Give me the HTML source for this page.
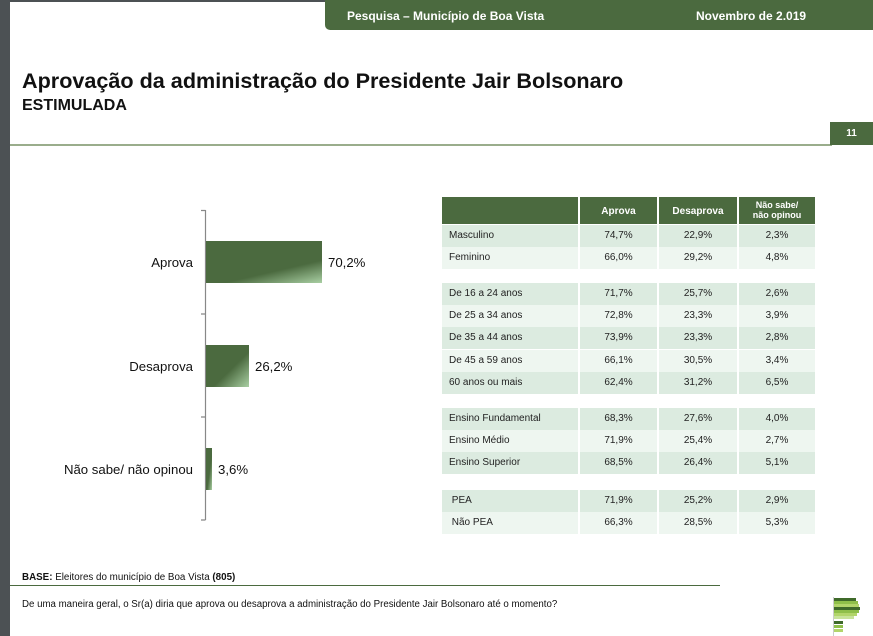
<!DOCTYPE html>
<html><head><meta charset="utf-8"><style>
*{margin:0;padding:0;box-sizing:border-box}
body{width:873px;height:636px;position:relative;background:#fff;font-family:"Liberation Sans",Arial,sans-serif;overflow:hidden}
.a{position:absolute}
.t div.r{position:absolute;left:442px;width:373px;height:22px;font-size:10px;color:#222}
.r span{position:absolute;top:0;height:22px;line-height:22px;text-align:center;border-right:2px solid #fff}
</style></head><body>
<div class="a" style="left:0;top:0;width:10px;height:636px;background:#4c5154"></div>
<div class="a" style="left:0;top:0;width:873px;height:2px;background:#4c5154"></div>
<div class="a" style="left:325px;top:0;width:548px;height:30px;background:#4b6a3f;border-bottom-left-radius:5px;color:#fff;font-weight:bold;font-size:12px">
<span class="a" style="left:22px;top:9px">Pesquisa – Município de Boa Vista</span>
<span class="a" style="left:371px;top:9px">Novembro de 2.019</span></div>
<div class="a" style="left:22px;top:68px;font-size:21.6px;font-weight:bold;color:#111">Aprovação da administração do Presidente Jair Bolsonaro</div>
<div class="a" style="left:22px;top:97px;font-size:16px;font-weight:bold;color:#111">ESTIMULADA</div>
<div class="a" style="left:10px;top:144px;width:822px;height:2px;background:#9aad8c"></div>
<div class="a" style="left:830px;top:122px;width:43px;height:23px;background:#4b6a3f;color:#fff;font-size:10px;font-weight:bold;text-align:center;line-height:23px">11</div>

<svg class="a" style="left:0;top:0" width="440" height="560">
<defs><linearGradient id="g" x1="0.55" y1="0.3" x2="1" y2="1"><stop offset="0.45" stop-color="#4b6a3f"/><stop offset="1" stop-color="#a9cfa3"/></linearGradient>
<linearGradient id="g2" x1="0.3" y1="0.3" x2="1" y2="1"><stop offset="0.4" stop-color="#4b6a3f"/><stop offset="1" stop-color="#a9cfa3"/></linearGradient></defs>
<g stroke="#888" stroke-width="1.2" fill="none"><path d="M205.5 210V520M201 210.5H205.5M201 314H205.5M201 417H205.5M201 520H205.5"/></g>
<rect x="206" y="241" width="116" height="42" fill="url(#g)"/>
<rect x="206" y="345" width="43" height="42" fill="url(#g2)"/>
<rect x="206" y="448" width="6" height="42" fill="url(#g2)"/>
<g font-family="Liberation Sans,Arial,sans-serif" font-size="13.2" fill="#111">
<text x="193" y="267" text-anchor="end">Aprova</text>
<text x="193" y="371" text-anchor="end">Desaprova</text>
<text x="193" y="474" text-anchor="end">Não sabe/ não opinou</text>
<text x="328" y="267">70,2%</text>
<text x="255" y="371">26,2%</text>
<text x="218" y="474">3,6%</text></g>
</svg>

<div class="a" style="left:442px;top:197px;width:373px;height:27px;background:#4b6a3f;color:#fff;font-weight:bold;font-size:10px">
<span class="a" style="left:136px;top:0;width:2px;height:27px;background:#fff"></span>
<span class="a" style="left:215px;top:0;width:2px;height:27px;background:#fff"></span>
<span class="a" style="left:295px;top:0;width:2px;height:27px;background:#fff"></span>
<span class="a" style="left:138px;width:77px;top:9px;text-align:center">Aprova</span>
<span class="a" style="left:217px;width:78px;top:9px;text-align:center">Desaprova</span>
<span class="a" style="left:297px;width:76px;top:3px;text-align:center;font-size:9px;line-height:10px">Não sabe/<br>não opinou</span>
</div>
<div class="t" id="t"></div>
<script>
var rows=[[225,"Masculino","74,7%","22,9%","2,3%",0],[247,"Feminino","66,0%","29,2%","4,8%",1],
[283,"De 16 a 24 anos","71,7%","25,7%","2,6%",0],[305,"De 25 a 34 anos","72,8%","23,3%","3,9%",1],
[327,"De 35 a 44 anos","73,9%","23,3%","2,8%",0],[350,"De 45 a 59 anos","66,1%","30,5%","3,4%",1],
[372,"60 anos ou mais","62,4%","31,2%","6,5%",0],
[408,"Ensino Fundamental","68,3%","27,6%","4,0%",0],[430,"Ensino Médio","71,9%","25,4%","2,7%",1],
[452,"Ensino Superior","68,5%","26,4%","5,1%",0],
[490,"&nbsp;PEA","71,9%","25,2%","2,9%",0],[512,"&nbsp;Não PEA","66,3%","28,5%","5,3%",1]];
var h="";rows.forEach(function(r){var bg=r[5]?"#eef6f0":"#dcebe0";
h+='<div class="r" style="top:'+r[0]+'px;background:'+bg+'">'+
'<span style="left:0;width:138px;text-align:left;padding-left:7px">'+r[1]+'</span>'+
'<span style="left:138px;width:79px">'+r[2]+'</span>'+
'<span style="left:217px;width:80px">'+r[3]+'</span>'+
'<span style="left:297px;width:76px;border-right:0">'+r[4]+'</span></div>';});
document.getElementById("t").innerHTML=h;
</script>
<div class="a" style="left:22px;top:572px;font-size:9.8px;color:#111"><b>BASE:</b> Eleitores do município de Boa Vista <b>(805)</b></div>
<div class="a" style="left:10px;top:585px;width:710px;height:1px;background:#4b6a3f"></div>
<div class="a" style="left:22px;top:599px;font-size:9.7px;color:#111">De uma maneira geral, o Sr(a) diria que aprova ou desaprova a administração do Presidente Jair Bolsonaro até o momento?</div>
<div class="a" style="left:833px;top:597px;width:1px;height:39px;background:#ccc"></div>
<div class="a" style="left:834px;top:598px;width:22px;height:3px;background:#3f6a2a"></div>
<div class="a" style="left:834px;top:601px;width:24px;height:3px;background:#8fbf4a"></div>
<div class="a" style="left:834px;top:604px;width:25px;height:3px;background:#b2d56a"></div>
<div class="a" style="left:834px;top:607px;width:26px;height:3px;background:#3f6a2a"></div>
<div class="a" style="left:834px;top:610px;width:25px;height:3px;background:#8fbf4a"></div>
<div class="a" style="left:834px;top:613px;width:23px;height:3px;background:#b2d56a"></div>
<div class="a" style="left:834px;top:616px;width:20px;height:3px;background:#c8e39a"></div>
<div class="a" style="left:834px;top:621px;width:9px;height:3px;background:#3f6a2a"></div>
<div class="a" style="left:834px;top:625px;width:9px;height:3px;background:#8fbf4a"></div>
<div class="a" style="left:834px;top:629px;width:9px;height:3px;background:#b2d56a"></div>
</body></html>
